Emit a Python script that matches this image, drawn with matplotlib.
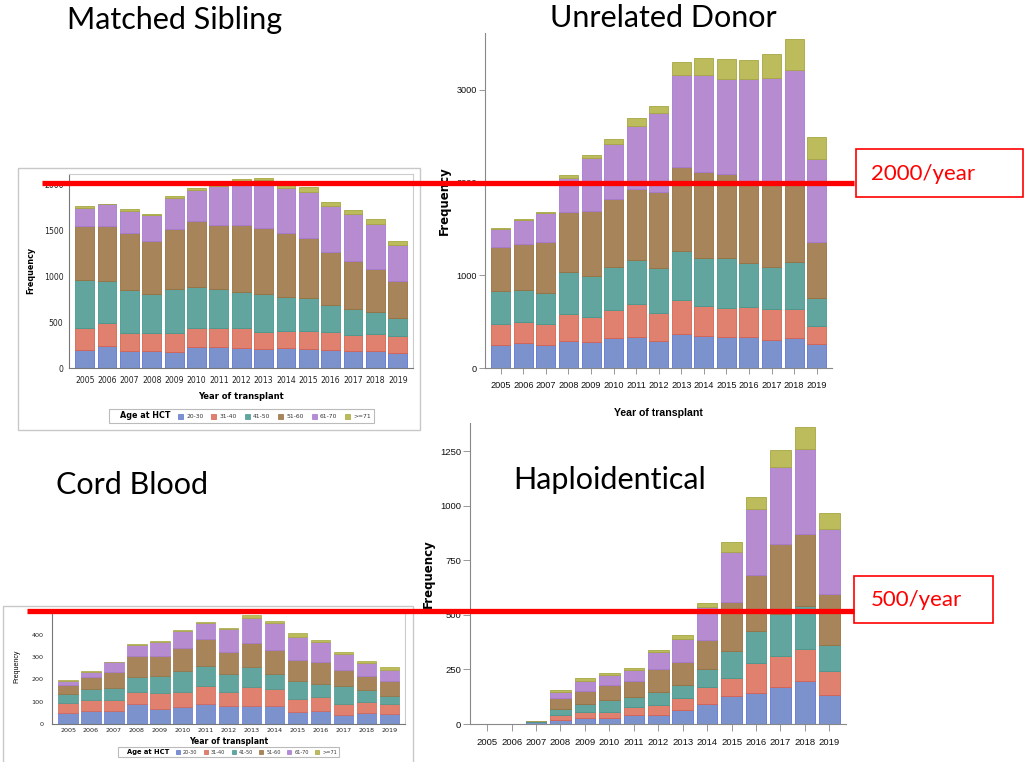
import matplotlib
matplotlib.use("Agg")
import matplotlib.pyplot as plt
from matplotlib.patches import Patch, Rectangle
import numpy as np

W, H = 1025, 762

years = [str(y) for y in range(2005, 2020)]
age_groups = ["20-30", "31-40", "41-50", "51-60", "61-70", ">=71"]

# counts per age group, one list per group (2005..2019)
sib_20_30 = [195, 235, 188, 184, 177, 227, 224, 220, 206, 217, 206, 195, 180, 184, 162]
sib_31_40 = [245, 252, 195, 199, 202, 206, 216, 213, 191, 191, 202, 202, 177, 184, 185]
sib_41_50 = [520, 463, 469, 418, 477, 444, 416, 397, 412, 361, 350, 289, 286, 246, 202]
sib_51_60 = [589, 599, 614, 578, 660, 726, 704, 726, 718, 700, 661, 581, 519, 469, 393]
sib_61_70 = [195, 231, 238, 285, 339, 336, 425, 474, 518, 491, 501, 502, 517, 487, 394]
sib_71 = [18, 10, 22, 11, 22, 21, 25, 28, 24, 33, 47, 40, 36, 55, 50]

urd_20_30 = [245, 274, 245, 288, 284, 320, 335, 288, 367, 349, 338, 331, 299, 328, 263]
urd_31_40 = [234, 223, 234, 299, 267, 310, 356, 306, 371, 321, 314, 328, 338, 313, 187]
urd_41_50 = [353, 349, 331, 443, 446, 464, 472, 486, 526, 518, 532, 468, 457, 507, 310]
urd_51_60 = [468, 493, 547, 648, 699, 724, 763, 821, 903, 922, 911, 873, 901, 852, 597]
urd_61_70 = [194, 256, 310, 374, 568, 598, 688, 853, 997, 1054, 1023, 1114, 1137, 1215, 897]
urd_71 = [11, 11, 14, 25, 29, 54, 79, 76, 137, 177, 212, 209, 252, 331, 234]

cord_20_30 = [51, 57, 60, 91, 66, 78, 91, 81, 79, 82, 52, 57, 42, 48, 43]
cord_31_40 = [43, 52, 49, 51, 75, 66, 80, 63, 87, 74, 60, 64, 49, 49, 47]
cord_41_50 = [41, 50, 54, 68, 76, 94, 90, 79, 90, 70, 80, 60, 78, 57, 37]
cord_51_60 = [39, 52, 72, 97, 90, 102, 118, 99, 105, 108, 97, 96, 72, 63, 65]
cord_61_70 = [18, 21, 41, 48, 62, 76, 72, 103, 115, 117, 100, 89, 72, 57, 51]
cord_71 = [4, 5, 3, 5, 3, 5, 7, 5, 12, 9, 17, 10, 11, 9, 12]

haplo_20_30 = [1, 1, 8, 20, 27, 27, 43, 43, 64, 93, 127, 142, 170, 199, 133]
haplo_31_40 = [0, 0, 2, 20, 26, 28, 35, 43, 55, 77, 84, 137, 140, 145, 110]
haplo_41_50 = [0, 1, 2, 30, 40, 53, 46, 61, 61, 82, 123, 147, 195, 195, 117]
haplo_51_60 = [1, 0, 1, 48, 57, 72, 71, 105, 106, 134, 226, 258, 321, 331, 237]
haplo_61_70 = [0, 0, 1, 30, 49, 46, 51, 76, 105, 149, 229, 301, 350, 391, 296]
haplo_71 = [0, 0, 1, 6, 12, 8, 9, 13, 15, 19, 46, 55, 81, 100, 74]

face = ["#7b92cc", "#e0806f", "#62a59e", "#a8845a", "#b68bcf", "#bcbc5d"]
edge = ["#5f74d6", "#d8624f", "#449a90", "#98703f", "#a67ad6", "#a6a641"]

fig = plt.figure(figsize=(W / 100, H / 100), dpi=100)


def px_axes(l, t, r, b):
    return fig.add_axes([l / W, 1 - b / H, (r - l) / W, (b - t) / H])


def stacked(ax, series, ymax, lw=0.6):
    x = np.arange(len(years))
    bottom = np.zeros(len(years))
    for vals, fc, ec in zip(series, face, edge):
        ax.bar(x, vals, 0.84, bottom=bottom, color=fc, edgecolor=ec, linewidth=lw)
        bottom += np.array(vals)
    ax.set_xlim(-0.7, 14.68)
    ax.set_ylim(0, ymax)
    ax.set_xticks(x)
    ax.set_xticklabels(years)


def age_legend(ax, loc_xy, size):
    handles = [Patch(visible=False)] + [Patch(facecolor=f, edgecolor=e, linewidth=0.5)
                                        for f, e in zip(face, edge)]
    labels = ["Age at HCT"] + age_groups
    leg = ax.legend(handles, labels, loc="center", bbox_to_anchor=loc_xy, ncol=7,
                    fontsize=size, frameon=True, fancybox=False, edgecolor="#aaaaaa",
                    handlelength=0.8, handleheight=0.8, handletextpad=0.6,
                    columnspacing=1.3, borderpad=0.45)
    leg.get_texts()[0].set_fontweight("bold")
    leg.get_texts()[0].set_fontsize(size * 1.35)
    leg.get_frame().set_linewidth(0.8)
    for t in leg.get_texts()[1:]:
        t.set_color("#333333")


narrow = ["Liberation Sans", "DejaVu Sans"]

# ---- Matched Sibling (small boxed image style)
ax1 = px_axes(69, 174, 413, 368)
stacked(ax1, [sib_20_30, sib_31_40, sib_41_50, sib_51_60, sib_61_70, sib_71], 2112)
ax1.set_yticks([0, 500, 1000, 1500, 2000])
ax1.tick_params(labelsize=5.6, length=0, colors="#222222")
ax1.tick_params(axis="x", pad=6)
ax1.tick_params(axis="y", pad=4)
for s in ax1.spines.values():
    s.set_color("#cccccc")
    s.set_linewidth(0.8)
ax1.spines["left"].set_color("#777777")
ax1.spines["bottom"].set_color("#777777")
ax1.set_ylabel("Frequency", fontsize=5.8, fontweight="bold")
ax1.yaxis.set_label_coords(-0.099, 0.505)
ax1.set_xlabel("Year of transplant", fontsize=6, fontweight="bold")
ax1.xaxis.set_label_coords(0.5, -0.124)
age_legend(ax1, (0.501, -0.247), 4.3)

# ---- Unrelated Donor
ax2 = px_axes(485, 33, 832, 368)
stacked(ax2, [urd_20_30, urd_31_40, urd_41_50, urd_51_60, urd_61_70, urd_71], 3612)
ax2.set_yticks([0, 1000, 2000, 3000])
ax2.spines["top"].set_visible(False)
ax2.spines["right"].set_visible(False)
for s in ("left", "bottom"):
    ax2.spines[s].set_color("#888888")
ax2.tick_params(length=4, width=0.6, colors="#888888", labelcolor="#111111", labelsize=6.6)
ax2.tick_params(axis="x", pad=5)
ax2.tick_params(axis="y", pad=2)
for t in ax2.get_xticklabels() + ax2.get_yticklabels():
    t.set_family(narrow)
ax2.set_ylabel("Frequency", fontsize=8.5, fontweight="bold")
ax2.yaxis.set_label_coords(-0.098, 0.5)
ax2.set_xlabel("Year of transplant", fontsize=7.6, fontweight="bold", family=narrow)
ax2.xaxis.set_label_coords(0.499, -0.12)

# ---- Cord Blood
ax3 = px_axes(52, 612.5, 405, 724)
stacked(ax3, [cord_20_30, cord_31_40, cord_41_50, cord_51_60, cord_61_70, cord_71], 500, lw=0.5)
ax3.set_yticks([0, 100, 200, 300, 400, 500])
ax3.tick_params(labelsize=4.6, length=0, colors="#222222")
ax3.tick_params(axis="x", pad=3)
ax3.tick_params(axis="y", pad=6)
for s in ax3.spines.values():
    s.set_color("#cccccc")
    s.set_linewidth(0.8)
ax3.spines["left"].set_color("#777777")
ax3.spines["bottom"].set_color("#777777")
ax3.set_ylabel("Frequency", fontsize=5, family=narrow)
ax3.yaxis.set_label_coords(-0.091, 0.52)
ax3.set_xlabel("Year of transplant", fontsize=5.6, fontweight="bold")
ax3.xaxis.set_label_coords(0.5, -0.117)
age_legend(ax3, (0.50, -0.251), 3.6)

# ---- Haploidentical
ax4 = px_axes(470, 423, 846, 724)
stacked(ax4, [haplo_20_30, haplo_31_40, haplo_41_50, haplo_51_60, haplo_61_70, haplo_71], 1379)
ax4.set_yticks([0, 250, 500, 750, 1000, 1250])
ax4.spines["top"].set_visible(False)
ax4.spines["right"].set_visible(False)
for s in ("left", "bottom"):
    ax4.spines[s].set_color("#888888")
ax4.tick_params(length=5, width=0.6, colors="#888888", labelcolor="#111111", labelsize=6.8)
ax4.tick_params(axis="x", pad=5)
ax4.tick_params(axis="y", pad=1.5)
for t in ax4.get_xticklabels() + ax4.get_yticklabels():
    t.set_family(narrow)
ax4.set_ylabel("Frequency", fontsize=8.5, fontweight="bold")
ax4.yaxis.set_label_coords(-0.093, 0.5)

# ---- slide overlay: frames, titles, threshold lines
ov = fig.add_axes([0, 0, 1, 1], zorder=10)
ov.set_xlim(0, W)
ov.set_ylim(H, 0)
ov.axis("off")
ov.patch.set_alpha(0)

ov.add_patch(Rectangle((18, 168), 402, 262, fill=False, edgecolor="#c8c8c8", lw=1))
ov.add_patch(Rectangle((3, 606), 410, 170, fill=False, edgecolor="#c8c8c8", lw=1))

title_font = ["Lato", "DejaVu Sans"]
ov.text(175, 20, "Matched Sibling", fontsize=22, family=title_font, ha="center", va="center")
ov.text(663, 18, "Unrelated Donor", fontsize=22, family=title_font, ha="center", va="center")
ov.text(132, 485, "Cord Blood", fontsize=22, family=title_font, ha="center", va="center")
ov.text(610, 480, "Haploidentical", fontsize=22, family=title_font, ha="center", va="center")

ov.plot([42, 854], [183, 183], color="#ff0000", lw=3.8, solid_capstyle="butt")
ov.add_patch(Rectangle((856, 149), 167, 48, fill=False, edgecolor="#ff0000", lw=1.2))
ov.text(923, 174, "2000/year", fontsize=16, family=title_font, color="#ff0000",
        ha="center", va="center")

ov.plot([27, 854], [611, 611], color="#ff0000", lw=3.8, solid_capstyle="butt")
ov.add_patch(Rectangle((854, 576), 139, 47, fill=False, edgecolor="#ff0000", lw=1.2))
ov.text(916, 600, "500/year", fontsize=16, family=title_font, color="#ff0000",
        ha="center", va="center")

fig.savefig("out.png", dpi=100)
